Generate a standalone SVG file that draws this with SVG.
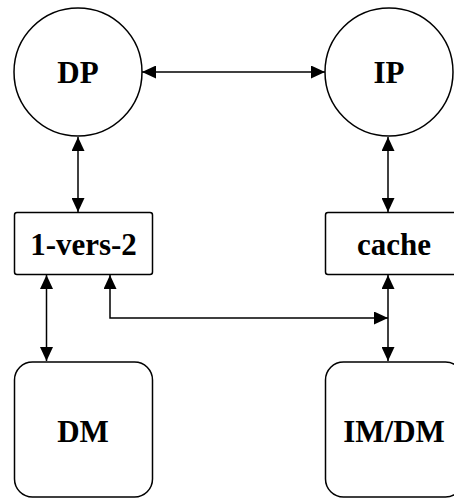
<svg xmlns="http://www.w3.org/2000/svg" width="454" height="498" viewBox="0 0 454 498">
  <defs>
    <marker id="arr" viewBox="0 0 14 13" refX="14" refY="6.5" markerWidth="14" markerHeight="13" markerUnits="userSpaceOnUse" orient="auto-start-reverse">
      <path d="M0,0 L14,6.5 L0,13 Z" fill="#000"/>
    </marker>
    <style>
      .shape { fill: #fff; stroke: #000; stroke-width: 1.5; }
      .lbl { font-family: "Liberation Serif", "Times New Roman", serif; font-weight: bold; font-size: 31px; fill: #000; text-anchor: middle; }
      .conn { fill: none; stroke: #000; stroke-width: 1.5; }
    </style>
  </defs>
  <rect width="454" height="498" fill="#fff"/>

  <g id="connectors">
    <line class="conn" x1="142" y1="72" x2="325" y2="72" marker-start="url(#arr)" marker-end="url(#arr)"/>
    <line class="conn" x1="78" y1="137" x2="78" y2="212" marker-start="url(#arr)" marker-end="url(#arr)"/>
    <line class="conn" x1="388" y1="137" x2="388" y2="212" marker-start="url(#arr)" marker-end="url(#arr)"/>
    <line class="conn" x1="46.5" y1="275" x2="46.5" y2="361" marker-start="url(#arr)" marker-end="url(#arr)"/>
    <line class="conn" x1="388" y1="275" x2="388" y2="361" marker-start="url(#arr)" marker-end="url(#arr)"/>
    <polyline class="conn" points="110,275 110,318 388,318" marker-start="url(#arr)" marker-end="url(#arr)"/>
  </g>

  <g id="dp">
    <circle class="shape" cx="78" cy="72" r="64"/>
    <text class="lbl" x="78" y="83">DP</text>
  </g>
  <g id="ip">
    <circle class="shape" cx="389" cy="72" r="64"/>
    <text class="lbl" x="389" y="83">IP</text>
  </g>
  <g id="vers">
    <rect class="shape" x="14.5" y="212.5" width="138" height="62" rx="2.5"/>
    <text class="lbl" x="83.5" y="255">1-vers-2</text>
  </g>
  <g id="cache">
    <rect class="shape" x="325.5" y="212.5" width="138" height="62" rx="2.5"/>
    <text class="lbl" x="394" y="255">cache</text>
  </g>
  <g id="dm">
    <rect class="shape" x="14.5" y="362" width="138" height="135" rx="18"/>
    <text class="lbl" x="83" y="442">DM</text>
  </g>
  <g id="imdm">
    <rect class="shape" x="325.5" y="362" width="138" height="135" rx="18"/>
    <text class="lbl" x="394" y="442">IM/DM</text>
  </g>
</svg>
